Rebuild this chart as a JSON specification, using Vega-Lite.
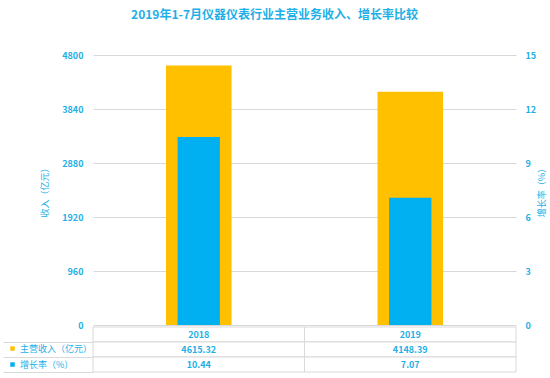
{
  "$schema": "https://vega.github.io/schema/vega-lite/v6.json",
  "padding": {"left": 2, "top": 9, "right": 0, "bottom": 2},
  "background": "white",
  "title": {"text": "2019年1-7月仪器仪表行业主营业务收入、增长率比较", "font": "Noto Sans CJK SC", "fontSize": 12, "fontWeight": "bold", "color": "#1EAFE6", "anchor": "middle", "offset": 29},
  "config": {"view": {"stroke": null}, "font": "Noto Sans CJK SC"},
  "bounds": "flush",
  "spacing": 2,
  "vconcat": [
    {
      "width": 423,
      "height": 270,
      "data": {"values": [
        {"year": "2018", "series": "主营收入（亿元）", "value": 4615.32},
        {"year": "2019", "series": "主营收入（亿元）", "value": 4148.39},
        {"year": "2018", "series": "增长率（%）", "value": 10.44},
        {"year": "2019", "series": "增长率（%）", "value": 7.07}
      ]},
      "encoding": {
        "x": {"field": "year", "type": "nominal", "scale": {"paddingInner": 0, "paddingOuter": 0}, "axis": null}
      },
      "layer": [
        {
          "transform": [{"filter": "datum.series == '主营收入（亿元）'"}],
          "mark": {"type": "bar", "width": {"band": 0.31}},
          "encoding": {
            "y": {"field": "value", "type": "quantitative", "scale": {"domain": [0, 4800]},
              "axis": {"orient": "left", "values": [0, 960, 1920, 2880, 3840, 4800], "format": "d", "title": "收入（亿元）", "grid": true, "gridColor": "#D9D9D9", "domain": false, "ticks": false, "labelPadding": 10, "labelColor": "#1EAFE6", "labelFontSize": 9, "labelFontWeight": "bold", "titleColor": "#1EAFE6", "titleFontSize": 9, "titleFontWeight": "normal", "titlePadding": 12}},
            "color": {"field": "series", "type": "nominal", "scale": {"domain": ["主营收入（亿元）", "增长率（%）"], "range": ["#FFC000", "#00B0F0"]},
              "legend": {"orient": "none", "legendX": -85, "legendY": 289, "title": null, "symbolType": "square", "symbolSize": 20, "symbolStrokeWidth": 0, "labelFontSize": 9, "labelColor": "#1EAFE6", "labelFontWeight": "normal", "labelOffset": 3, "rowPadding": 6}}
          }
        },
        {
          "transform": [{"filter": "datum.series == '增长率（%）'"}],
          "mark": {"type": "bar", "width": {"band": 0.2}},
          "encoding": {
            "y": {"field": "value", "type": "quantitative", "scale": {"domain": [0, 15]},
              "axis": {"orient": "right", "values": [0, 3, 6, 9, 12, 15], "format": "d", "title": "增长率（%）", "titleAngle": 270, "grid": false, "domain": false, "ticks": false, "labelPadding": 9, "labelColor": "#1EAFE6", "labelFontSize": 9, "labelFontWeight": "bold", "titleColor": "#1EAFE6", "titleFontSize": 9, "titleFontWeight": "normal", "titlePadding": 11}},
            "color": {"field": "series", "type": "nominal"}
          }
        }
      ],
      "resolve": {"scale": {"y": "independent"}}
    },
    {
      "width": 423,
      "height": 45,
      "data": {"values": [
        {"year": "2018", "row": "年份", "label": "2018"},
        {"year": "2019", "row": "年份", "label": "2019"},
        {"year": "2018", "row": "主营收入", "label": "4615.32"},
        {"year": "2019", "row": "主营收入", "label": "4148.39"},
        {"year": "2018", "row": "增长率", "label": "10.44"},
        {"year": "2019", "row": "增长率", "label": "7.07"}
      ]},
      "encoding": {
        "x": {"field": "year", "type": "nominal", "scale": {"paddingInner": 0, "paddingOuter": 0}, "axis": null},
        "y": {"field": "row", "type": "nominal", "scale": {"domain": ["年份", "主营收入", "增长率"], "paddingInner": 0, "paddingOuter": 0},
          "axis": {"labels": false, "title": null, "domain": false, "ticks": true, "tickSize": 90, "tickColor": "#D9D9D9", "bandPosition": 1, "grid": false}}
      },
      "layer": [
        {"mark": {"type": "rect", "fill": "white", "stroke": "#D9D9D9", "strokeWidth": 1}},
        {"mark": {"type": "text", "fontSize": 9, "fontWeight": "bold", "color": "#1EAFE6"}, "encoding": {"text": {"field": "label"}}}
      ]
    }
  ]
}
